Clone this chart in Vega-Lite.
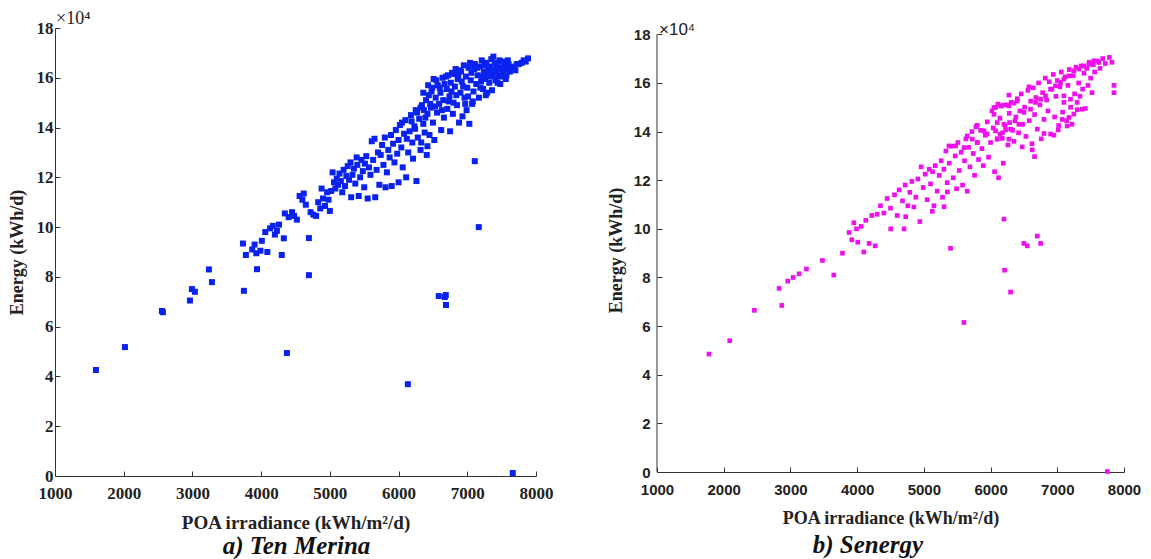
{
"$schema": "https://vega.github.io/schema/vega-lite/v6.json",
"background": "white",
"padding": {"left": 8, "top": 10, "right": 0, "bottom": 0},
"config": {"view": {"stroke": null}},
"spacing": 54,
"datasets": {
"a": [
{"poa":1596,"energy":42600},{"poa":2018,"energy":51800},{"poa":2556,"energy":66300},{"poa":2570,"energy":65800},{"poa":2964,"energy":70500},{"poa":2993,"energy":75100},{"poa":3036,"energy":74000},{"poa":3240,"energy":83000},{"poa":3284,"energy":77900},{"poa":3735,"energy":93400},{"poa":3749,"energy":74400},{"poa":3778,"energy":88800},{"poa":3870,"energy":91000},{"poa":3905,"energy":93000},{"poa":3930,"energy":89500},{"poa":3940,"energy":83100},{"poa":3990,"energy":90500},{"poa":4010,"energy":94500},{"poa":4060,"energy":98000},{"poa":4090,"energy":90000},{"poa":4130,"energy":99500},{"poa":4170,"energy":100500},{"poa":4200,"energy":97000},{"poa":4230,"energy":98500},{"poa":4260,"energy":101000},{"poa":4300,"energy":88800},{"poa":4330,"energy":95500},{"poa":4345,"energy":105500},{"poa":4375,"energy":49400},{"poa":4400,"energy":104000},{"poa":4450,"energy":106000},{"poa":4480,"energy":104500},{"poa":4520,"energy":103000},{"poa":4560,"energy":112500},{"poa":4600,"energy":111000},{"poa":4620,"energy":113500},{"poa":4650,"energy":109000},{"poa":4695,"energy":95600},{"poa":4695,"energy":80700},{"poa":4720,"energy":106000},{"poa":4760,"energy":105000},{"poa":4800,"energy":104500},{"poa":4830,"energy":110000},{"poa":4860,"energy":107500},{"poa":4880,"energy":115500},{"poa":4900,"energy":111500},{"poa":4930,"energy":108500},{"poa":4960,"energy":114000},{"poa":4980,"energy":111000},{"poa":5000,"energy":106500},{"poa":5020,"energy":114500},{"poa":5040,"energy":122000},{"poa":5060,"energy":118000},{"poa":5080,"energy":115500},{"poa":5100,"energy":119500},{"poa":5120,"energy":117000},{"poa":5140,"energy":121500},{"poa":5160,"energy":118500},{"poa":5180,"energy":114000},{"poa":5200,"energy":123000},{"poa":5220,"energy":116500},{"poa":5240,"energy":120500},{"poa":5260,"energy":124500},{"poa":5280,"energy":119000},{"poa":5300,"energy":126000},{"poa":5310,"energy":112000},{"poa":5330,"energy":121000},{"poa":5350,"energy":123500},{"poa":5370,"energy":117500},{"poa":5390,"energy":128000},{"poa":5400,"energy":125000},{"poa":5420,"energy":112500},{"poa":5440,"energy":120000},{"poa":5460,"energy":127000},{"poa":5480,"energy":122500},{"poa":5500,"energy":116000},{"poa":5510,"energy":125500},{"poa":5530,"energy":128500},{"poa":5550,"energy":111500},{"poa":5570,"energy":124000},{"poa":5590,"energy":121000},{"poa":5610,"energy":134500},{"poa":5630,"energy":127000},{"poa":5650,"energy":135500},{"poa":5660,"energy":112000},{"poa":5680,"energy":123000},{"poa":5700,"energy":130000},{"poa":5720,"energy":117000},{"poa":5740,"energy":129000},{"poa":5760,"energy":133000},{"poa":5780,"energy":125000},{"poa":5800,"energy":136000},{"poa":5810,"energy":116000},{"poa":5830,"energy":122000},{"poa":5850,"energy":131000},{"poa":5870,"energy":128000},{"poa":5890,"energy":137000},{"poa":5900,"energy":116500},{"poa":5920,"energy":133500},{"poa":5940,"energy":126000},{"poa":5960,"energy":139000},{"poa":5980,"energy":129500},{"poa":6000,"energy":135000},{"poa":6000,"energy":118000},{"poa":6020,"energy":141000},{"poa":6040,"energy":132000},{"poa":6060,"energy":124000},{"poa":6080,"energy":137500},{"poa":6100,"energy":143000},{"poa":6110,"energy":120000},{"poa":6135,"energy":36900},{"poa":6140,"energy":130000},{"poa":6160,"energy":138500},{"poa":6180,"energy":145000},{"poa":6200,"energy":134000},{"poa":6210,"energy":127500},{"poa":6230,"energy":140500},{"poa":6250,"energy":147000},{"poa":6260,"energy":118500},{"poa":6280,"energy":136000},{"poa":6300,"energy":143500},{"poa":6320,"energy":131000},{"poa":6340,"energy":149000},{"poa":6360,"energy":141500},{"poa":6380,"energy":138000},{"poa":6400,"energy":151000},{"poa":6410,"energy":129000},{"poa":6420,"energy":145500},{"poa":6440,"energy":153000},{"poa":6450,"energy":137000},{"poa":6470,"energy":148000},{"poa":6490,"energy":156000},{"poa":6500,"energy":142000},{"poa":6510,"energy":159500},{"poa":6520,"energy":135000},{"poa":6540,"energy":152000},{"poa":6560,"energy":146000},{"poa":6570,"energy":157000},{"poa":6585,"energy":72300},{"poa":6590,"energy":149500},{"poa":6610,"energy":154000},{"poa":6620,"energy":139000},{"poa":6640,"energy":160000},{"poa":6650,"energy":151000},{"poa":6660,"energy":144000},{"poa":6673,"energy":71900},{"poa":6687,"energy":72700},{"poa":6690,"energy":68700},{"poa":6700,"energy":155500},{"poa":6710,"energy":147500},{"poa":6720,"energy":161000},{"poa":6740,"energy":152500},{"poa":6750,"energy":138500},{"poa":6760,"energy":158000},{"poa":6780,"energy":162000},{"poa":6790,"energy":145500},{"poa":6800,"energy":150000},{"poa":6820,"energy":156500},{"poa":6830,"energy":163500},{"poa":6850,"energy":149000},{"poa":6860,"energy":159500},{"poa":6880,"energy":142000},{"poa":6890,"energy":163000},{"poa":6900,"energy":154000},{"poa":6920,"energy":158500},{"poa":6930,"energy":144500},{"poa":6950,"energy":165000},{"poa":6960,"energy":152000},{"poa":6980,"energy":160500},{"poa":6990,"energy":147000},{"poa":7000,"energy":156000},{"poa":7020,"energy":164000},{"poa":7030,"energy":141500},{"poa":7050,"energy":159000},{"poa":7060,"energy":162000},{"poa":7070,"energy":149500},{"poa":7090,"energy":154500},{"poa":7109,"energy":126500},{"poa":7110,"energy":165500},{"poa":7130,"energy":157500},{"poa":7150,"energy":161000},{"poa":7167,"energy":100000},{"poa":7170,"energy":152000},{"poa":7180,"energy":164500},{"poa":7200,"energy":158500},{"poa":7210,"energy":167000},{"poa":7230,"energy":155500},{"poa":7240,"energy":162500},{"poa":7260,"energy":159500},{"poa":7280,"energy":166000},{"poa":7290,"energy":154000},{"poa":7310,"energy":163500},{"poa":7330,"energy":160500},{"poa":7350,"energy":167500},{"poa":7360,"energy":155000},{"poa":7380,"energy":168500},{"poa":7390,"energy":162500},{"poa":7410,"energy":159000},{"poa":7430,"energy":165000},{"poa":7450,"energy":161000},{"poa":7470,"energy":167000},{"poa":7480,"energy":157500},{"poa":7500,"energy":164000},{"poa":7520,"energy":162000},{"poa":7540,"energy":166000},{"poa":7560,"energy":159500},{"poa":7580,"energy":164500},{"poa":7600,"energy":165500},{"poa":7620,"energy":162500},{"poa":7662,"energy":1200},{"poa":7680,"energy":164000},{"poa":7720,"energy":165500},{"poa":7790,"energy":166000},{"poa":7820,"energy":167000},{"poa":7884,"energy":167800},
{"poa":6320,"energy":148000},{"poa":6360,"energy":154000},{"poa":6390,"energy":144000},{"poa":6430,"energy":157000},{"poa":6460,"energy":149500},{"poa":6480,"energy":154500},{"poa":6530,"energy":148500},{"poa":6550,"energy":159000},{"poa":6600,"energy":156000},{"poa":6630,"energy":147000},{"poa":6670,"energy":157500},{"poa":6690,"energy":160500},{"poa":6730,"energy":150500},{"poa":6770,"energy":154500},{"poa":6810,"energy":161500},{"poa":6840,"energy":153000},{"poa":6870,"energy":161000},{"poa":6910,"energy":162500},{"poa":6940,"energy":156500},{"poa":6970,"energy":149500},{"poa":7010,"energy":152500},{"poa":7040,"energy":166000},{"poa":7080,"energy":150500},{"poa":7100,"energy":163500},{"poa":7140,"energy":164000},{"poa":7190,"energy":156000},{"poa":7220,"energy":160500},{"poa":7250,"energy":165000},{"poa":7270,"energy":153000},{"poa":7300,"energy":161500},{"poa":7320,"energy":158000},{"poa":7340,"energy":164500},{"poa":7370,"energy":161000},{"poa":7400,"energy":166000},{"poa":7420,"energy":163000},{"poa":7440,"energy":158000},{"poa":7460,"energy":163500},{"poa":7490,"energy":160500},{"poa":7510,"energy":166500},{"poa":7550,"energy":163500},{"poa":7570,"energy":161000},{"poa":7590,"energy":167000},{"poa":7640,"energy":164500},{"poa":7700,"energy":163000},{"poa":7750,"energy":165500},{"poa":7850,"energy":166500},
{"poa":6050,"energy":142000},{"poa":6120,"energy":135500},{"poa":6190,"energy":142500},{"poa":6240,"energy":139500},{"poa":6270,"energy":146000},{"poa":6330,"energy":134000},{"poa":6370,"energy":147000},{"poa":6420,"energy":132500}
],
"b": [
{"poa":1780,"energy":48500},{"poa":2090,"energy":54000},{"poa":2460,"energy":66500},{"poa":2830,"energy":75500},{"poa":2870,"energy":68500},{"poa":2960,"energy":78500},{"poa":3040,"energy":80000},{"poa":3130,"energy":81500},{"poa":3240,"energy":83500},{"poa":3480,"energy":87000},{"poa":3650,"energy":81000},{"poa":3780,"energy":90000},{"poa":3880,"energy":98500},{"poa":3920,"energy":95500},{"poa":3950,"energy":102500},{"poa":3990,"energy":100000},{"poa":4010,"energy":94500},{"poa":4060,"energy":101000},{"poa":4100,"energy":90500},{"poa":4130,"energy":103500},{"poa":4180,"energy":94000},{"poa":4220,"energy":105500},{"poa":4270,"energy":93000},{"poa":4300,"energy":106000},{"poa":4350,"energy":109500},{"poa":4400,"energy":106500},{"poa":4450,"energy":112500},{"poa":4500,"energy":108500},{"poa":4560,"energy":114000},{"poa":4600,"energy":105500},{"poa":4630,"energy":116000},{"poa":4680,"energy":111500},{"poa":4720,"energy":118000},{"poa":4760,"energy":109500},{"poa":4790,"energy":115000},{"poa":4820,"energy":119500},{"poa":4850,"energy":109000},{"poa":4880,"energy":113000},{"poa":4910,"energy":120500},{"poa":4940,"energy":103000},{"poa":4960,"energy":125500},{"poa":4990,"energy":117000},{"poa":5020,"energy":122500},{"poa":5050,"energy":112000},{"poa":5080,"energy":124500},{"poa":5100,"energy":118500},{"poa":5130,"energy":123500},{"poa":5150,"energy":109500},{"poa":5170,"energy":126000},{"poa":5200,"energy":115500},{"poa":5230,"energy":122000},{"poa":5260,"energy":128000},{"poa":5280,"energy":113000},{"poa":5300,"energy":124500},{"poa":5330,"energy":132000},{"poa":5350,"energy":119000},{"poa":5380,"energy":127000},{"poa":5400,"energy":92000},{"poa":5420,"energy":134000},{"poa":5440,"energy":121000},{"poa":5470,"energy":130000},{"poa":5490,"energy":116500},{"poa":5510,"energy":135500},{"poa":5530,"energy":124000},{"poa":5560,"energy":131500},{"poa":5580,"energy":118000},{"poa":5600,"energy":61500},{"poa":5610,"energy":128000},{"poa":5630,"energy":137000},{"poa":5650,"energy":115500},{"poa":5670,"energy":133500},{"poa":5690,"energy":125500},{"poa":5720,"energy":140000},{"poa":5740,"energy":131000},{"poa":5760,"energy":122000},{"poa":5780,"energy":142000},{"poa":5800,"energy":135500},{"poa":5820,"energy":128500},{"poa":5850,"energy":140500},{"poa":5870,"energy":133000},{"poa":5890,"energy":126000},{"poa":5920,"energy":138500},{"poa":5950,"energy":144000},{"poa":5970,"energy":129500},{"poa":6000,"energy":135500},{"poa":6020,"energy":148500},{"poa":6040,"energy":141500},{"poa":6060,"energy":123500},{"poa":6080,"energy":150000},{"poa":6100,"energy":137000},{"poa":6120,"energy":121000},{"poa":6140,"energy":145500},{"poa":6160,"energy":150500},{"poa":6180,"energy":139500},{"poa":6190,"energy":127000},{"poa":6200,"energy":104000},{"poa":6210,"energy":83000},{"poa":6220,"energy":142500},{"poa":6240,"energy":151000},{"poa":6260,"energy":134500},{"poa":6280,"energy":147500},{"poa":6300,"energy":74000},{"poa":6310,"energy":152000},{"poa":6330,"energy":140500},{"poa":6350,"energy":136000},{"poa":6380,"energy":146000},{"poa":6400,"energy":153500},{"poa":6420,"energy":139500},{"poa":6440,"energy":148500},{"poa":6460,"energy":155500},{"poa":6480,"energy":143000},{"poa":6500,"energy":94000},{"poa":6510,"energy":150000},{"poa":6530,"energy":138000},{"poa":6550,"energy":93000},{"poa":6560,"energy":157000},{"poa":6580,"energy":144500},{"poa":6600,"energy":152500},{"poa":6620,"energy":135000},{"poa":6640,"energy":158000},{"poa":6660,"energy":147000},{"poa":6680,"energy":154000},{"poa":6700,"energy":97000},{"poa":6700,"energy":141000},{"poa":6720,"energy":160000},{"poa":6740,"energy":151000},{"poa":6750,"energy":94000},{"poa":6760,"energy":137000},{"poa":6780,"energy":156000},{"poa":6800,"energy":145000},{"poa":6820,"energy":162000},{"poa":6840,"energy":153000},{"poa":6860,"energy":148500},{"poa":6880,"energy":160500},{"poa":6900,"energy":139000},{"poa":6920,"energy":157500},{"poa":6940,"energy":163500},{"poa":6960,"energy":146000},{"poa":6980,"energy":154500},{"poa":7000,"energy":161000},{"poa":7020,"energy":142500},{"poa":7040,"energy":158500},{"poa":7060,"energy":164500},{"poa":7080,"energy":148000},{"poa":7100,"energy":152000},{"poa":7120,"energy":162500},{"poa":7140,"energy":144500},{"poa":7160,"energy":159000},{"poa":7180,"energy":165500},{"poa":7200,"energy":150000},{"poa":7220,"energy":143000},{"poa":7240,"energy":163000},{"poa":7260,"energy":155500},{"poa":7280,"energy":166500},{"poa":7300,"energy":149000},{"poa":7320,"energy":160000},{"poa":7340,"energy":154500},{"poa":7360,"energy":167000},{"poa":7380,"energy":157500},{"poa":7400,"energy":164000},{"poa":7420,"energy":149500},{"poa":7440,"energy":166000},{"poa":7460,"energy":159000},{"poa":7480,"energy":168500},{"poa":7500,"energy":162000},{"poa":7520,"energy":156000},{"poa":7540,"energy":167500},{"poa":7560,"energy":164500},{"poa":7600,"energy":169000},{"poa":7640,"energy":166000},{"poa":7680,"energy":170000},{"poa":7720,"energy":168000},{"poa":7750,"energy":200},{"poa":7780,"energy":170500},{"poa":7820,"energy":168500},{"poa":7850,"energy":159000},{"poa":7850,"energy":156000},
{"poa":6051,"energy":149900},{"poa":6111,"energy":151300},{"poa":6190,"energy":150900},{"poa":6275,"energy":150600},{"poa":6350,"energy":151700},{"poa":6400,"energy":152600},{"poa":6051,"energy":147100},{"poa":6100,"energy":143700},{"poa":6200,"energy":143000},{"poa":6284,"energy":143700},{"poa":6365,"energy":144400},{"poa":6425,"energy":143000},{"poa":6075,"energy":140300},{"poa":6141,"energy":138900},{"poa":6225,"energy":140700},{"poa":6300,"energy":141000},{"poa":6100,"energy":136900},{"poa":6175,"energy":137200},{"poa":6275,"energy":136900},{"poa":5800,"energy":142600},{"poa":5901,"energy":140300},{"poa":5950,"energy":139000},{"poa":5651,"energy":138200},{"poa":5726,"energy":136900},{"poa":5801,"energy":135500},{"poa":5377,"energy":134100},{"poa":5476,"energy":134100},{"poa":5602,"energy":133400},{"poa":6500,"energy":147900},{"poa":6599,"energy":149200},{"poa":6674,"energy":152000},{"poa":6749,"energy":153300},{"poa":6824,"energy":154700},{"poa":6899,"energy":157400},{"poa":6973,"energy":158800},{"poa":7048,"energy":160200},{"poa":7099,"energy":161600},{"poa":7174,"energy":162900},{"poa":7248,"energy":165000},{"poa":7323,"energy":165700},{"poa":7398,"energy":167000},{"poa":7473,"energy":167700},{"poa":7548,"energy":169100},{"poa":7623,"energy":168400},{"poa":7099,"energy":154700},{"poa":7198,"energy":153300},{"poa":7298,"energy":152000},{"poa":7373,"energy":149200},{"poa":7248,"energy":147200},{"poa":7174,"energy":145800},{"poa":6474,"energy":133700},{"poa":6624,"energy":132500},{"poa":6659,"energy":129700},{"poa":6800,"energy":139200},{"poa":6949,"energy":138500},{"poa":7014,"energy":140700},{"poa":7148,"energy":142300},{"poa":7073,"energy":145000},{"poa":6275,"energy":155000},{"poa":6575,"energy":158400},{"poa":5127,"energy":107200},{"poa":5352,"energy":115200},{"poa":5302,"energy":109100},{"poa":4728,"energy":105000},{"poa":4703,"energy":100000},{"poa":4503,"energy":100000}
],
"baxis": [{"poa": 1000, "energy": 0, "energy2": 180000}]
},
"hconcat": [
{
"title": {"text": "a) Ten Merina", "orient": "bottom", "anchor": "middle", "font": "Liberation Serif", "fontStyle": "italic", "fontWeight": "bold", "fontSize": 25, "color": "#111", "offset": 2, "dx": 16},
"vconcat": [
{
"title": {"text": "×10⁴", "anchor": "start", "frame": "group", "font": "Liberation Serif", "fontWeight": "normal", "fontSize": 18, "color": "#222", "offset": -9, "dx": 1},
"width": 481,
"height": 448,
"data": {"name": "a"},
"mark": {"type": "square", "size": 36, "filled": true, "color": "#0a22ee", "opacity": 1},
"encoding": {
"x": {"field": "poa", "type": "quantitative", "scale": {"domain": [1000, 8000], "nice": false, "zero": false},
"axis": {"values": [1000,2000,3000,4000,5000,6000,7000,8000], "format": "d", "grid": false, "title": "POA irradiance (kWh/m²/d)", "titleFont": "Liberation Serif", "titleFontWeight": "bold", "titleFontSize": 19, "titleColor": "#222", "titlePadding": 12, "labelFont": "Liberation Serif", "labelFontWeight": "bold", "labelFontSize": 17, "labelColor": "#222", "labelFlush": false, "labelOverlap": false, "tickSize": -5, "labelPadding": 14, "domainColor": "#333", "tickColor": "#333"}},
"y": {"field": "energy", "type": "quantitative", "scale": {"domain": [0, 180000], "nice": false, "zero": true},
"axis": {"values": [0,20000,40000,60000,80000,100000,120000,140000,160000,180000], "labelExpr": "datum.value/10000", "grid": false, "title": "Energy (kWh/d)", "titleFont": "Liberation Serif", "titleFontWeight": "bold", "titleFontSize": 18, "titleColor": "#222", "titlePadding": 10, "labelFont": "Liberation Serif", "labelFontWeight": "bold", "labelFontSize": 17, "labelColor": "#222", "labelFlush": false, "labelOverlap": false, "tickSize": -5, "labelPadding": 7, "domainColor": "#333", "tickColor": "#333"}}
}
}
]
},
{
"title": {"text": "b) Senergy", "orient": "bottom", "anchor": "middle", "font": "Liberation Serif", "fontStyle": "italic", "fontWeight": "bold", "fontSize": 25, "color": "#111", "offset": 6, "dx": -6},
"vconcat": [
{
"title": {"text": "×10⁴", "anchor": "start", "frame": "group", "font": "Liberation Sans", "fontWeight": "normal", "fontSize": 17, "color": "#222", "offset": -12, "dx": 2},
"width": 467,
"height": 444,
"layer": [
{
"data": {"name": "baxis"},
"mark": {"type": "rule", "color": "#333", "strokeWidth": 1},
"encoding": {
"x": {"field": "poa", "type": "quantitative"},
"y": {"field": "energy", "type": "quantitative"},
"y2": {"field": "energy2"}
}
},
{
"data": {"name": "b"},
"mark": {"type": "square", "size": 22, "filled": true, "color": "#ee11ee", "opacity": 1},
"encoding": {
"x": {"field": "poa", "type": "quantitative", "scale": {"domain": [1000, 8000], "nice": false, "zero": false},
"axis": {"values": [1000,2000,3000,4000,5000,6000,7000,8000], "format": "d", "grid": false, "title": "POA irradiance (kWh/m²/d)", "titleFont": "Liberation Serif", "titleFontWeight": "bold", "titleFontSize": 18, "titleColor": "#222", "titlePadding": 12, "labelFont": "Liberation Sans", "labelFontWeight": "bold", "labelFontSize": 15, "labelColor": "#222", "labelFlush": false, "labelOverlap": false, "tickSize": -5, "labelPadding": 15, "domainColor": "#333", "tickColor": "#333"}},
"y": {"field": "energy", "type": "quantitative", "scale": {"domain": [0, 182600], "nice": false, "zero": true},
"axis": {"values": [0,20000,40000,60000,80000,100000,120000,140000,160000,180000], "labelExpr": "datum.value/10000", "domain": false, "grid": false, "title": "Energy (kWh/d)", "titleFont": "Liberation Serif", "titleFontWeight": "bold", "titleFontSize": 18, "titleColor": "#222", "titlePadding": 8, "labelFont": "Liberation Sans", "labelFontWeight": "bold", "labelFontSize": 15, "labelColor": "#222", "labelFlush": false, "labelOverlap": false, "tickSize": -5, "labelPadding": 12, "tickColor": "#333"}}
}
}
]
}
]
}
]
}
